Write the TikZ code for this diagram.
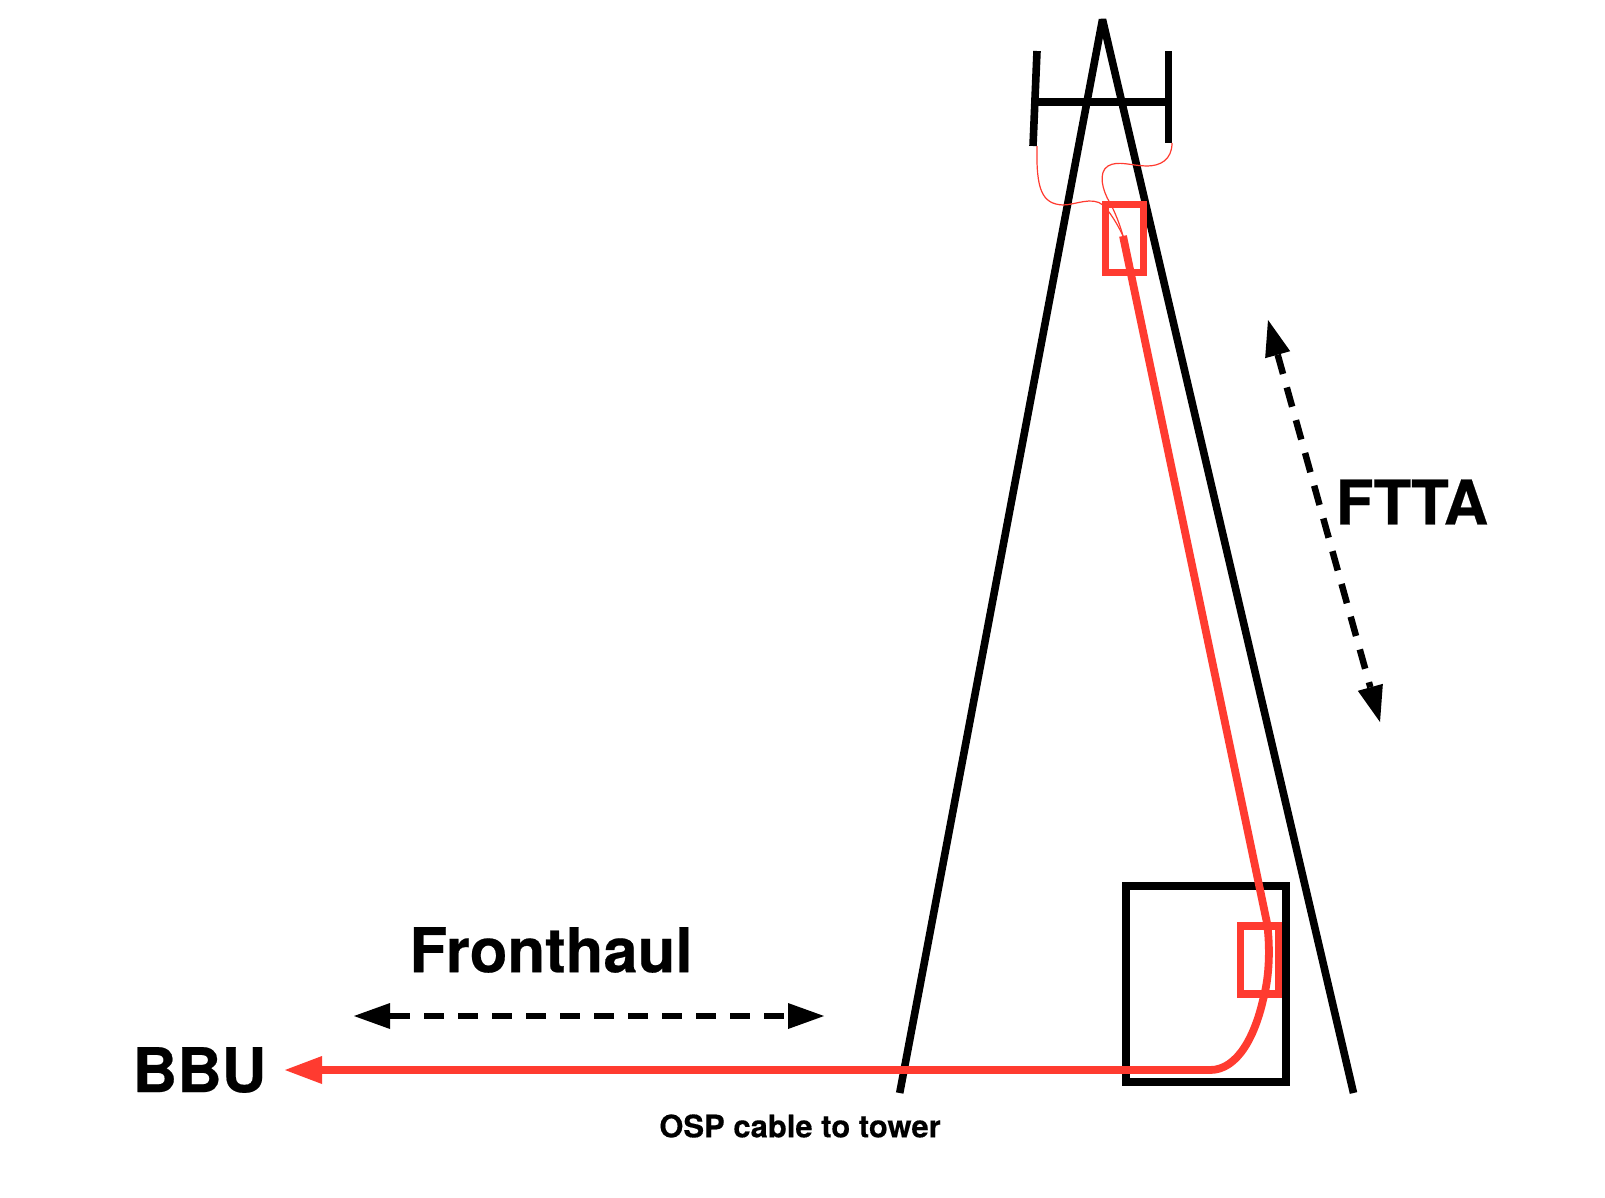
\documentclass[tikz,border=0pt]{standalone}
\usepackage{fontspec}
\setmainfont[BoldFeatures={FakeBold=0.35}]{TeX Gyre Heros}
\usetikzlibrary{arrows.meta}
\definecolor{fibre}{RGB}{255,59,48}
\tikzset{
  x=1pt,y=-1pt,
  blk/.style={draw=black,line width=7.6pt},
  towerline/.style={blk,line cap=butt,line join=bevel},
  redbox/.style={draw=fibre,line width=7.4pt,minimum width=38.5pt,minimum height=68pt,inner sep=0pt},
  cabin/.style={draw=black,line width=7.6pt,minimum width=160pt,minimum height=196pt,inner sep=0pt},
  span/.style={draw=black,line width=6.5pt,dash pattern=on 20pt off 14pt,{Triangle[length=36pt,width=26pt,line width=0pt]}-{Triangle[length=36pt,width=26pt,line width=0pt]}},
  fibrethick/.style={draw=fibre,line width=7.8pt,line join=round},
  fibrethin/.style={draw=fibre,line width=1.2pt},
  biglabel/.style={font=\fontsize{61.7}{62}\selectfont\bfseries,inner sep=0pt,anchor=center},
  smalllabel/.style={font=\fontsize{31}{31}\selectfont\bfseries,inner sep=0pt,anchor=center}
}
\begin{document}
\begin{tikzpicture}
\useasboundingbox (0,0) rectangle (1605,1197);
\fill[white] (0,0) rectangle (1605,1197);
% coordinates
\coordinate (apex) at (1102.5,19.5);
\coordinate (footL) at (899.7,1093);
\coordinate (footR) at (1353.5,1093);
\coordinate (antLtop) at (1037,51);
\coordinate (antLbot) at (1033,146);
\coordinate (antRtop) at (1168.5,51);
\coordinate (antRbot) at (1168.5,143);
\coordinate (barL) at (1036,102);
\coordinate (barR) at (1168,102);
\coordinate (splice) at (1123,236);
\coordinate (bbuTip) at (285,1070);
\coordinate (fhL) at (354,1016);
\coordinate (fhR) at (824,1016);
\coordinate (fttaT) at (1268,320);
\coordinate (fttaB) at (1380,722);
% black structure
\node[cabin] (shelter) at (1206,984) {};
\draw[towerline] (footL) -- (apex) -- (footR);
\draw[towerline] (antLtop) -- (antLbot);
\draw[towerline] (antRtop) -- (antRbot);
\draw[towerline] (barL) -- (barR);
% red boxes
\node[redbox] (topbox) at (1124.5,238.5) {};
\node[redbox] (botbox) at (1259.5,960) {};
% thin jumpers
\draw[fibrethin] (antLbot)++(4,0) .. controls (1036,190) and (1042,204) .. (1063,205)
  .. controls (1075,205) and (1092,196) .. (1103,205)
  .. controls (1110,212) and (1118,225) .. (splice);
\draw[fibrethin] (antRbot)++(3.5,0) .. controls (1172,160) and (1160,166) .. (1147,166)
  .. controls (1132,166) and (1118,160) .. (1108,166)
  .. controls (1098,172) and (1102,190) .. (1110,203)
  .. controls (1115,212) and (1120,225) .. (splice);
% thick fibre
\draw[fibrethick,-{Triangle[length=37pt,width=28pt,line width=0pt]}]
  (splice) -- (1267,923)
  .. controls (1270,945) and (1270,975) .. (1263,1000)
  .. controls (1255,1035) and (1238,1070) .. (1210,1070)
  -- (bbuTip);
% span arrows
\draw[span] (fhL) -- (fhR);
\draw[span] (fttaT) -- (fttaB);
% labels
\node[biglabel] (lblFTTA) at (1412,502) {FTTA};
\node[biglabel] (lblFH) at (551,950) {Fronthaul};
\node[biglabel] (lblBBU) at (199.5,1070) {BBU};
\node[smalllabel] (lblOSP) at (800,1126) {OSP cable to tower};
\end{tikzpicture}
\end{document}
